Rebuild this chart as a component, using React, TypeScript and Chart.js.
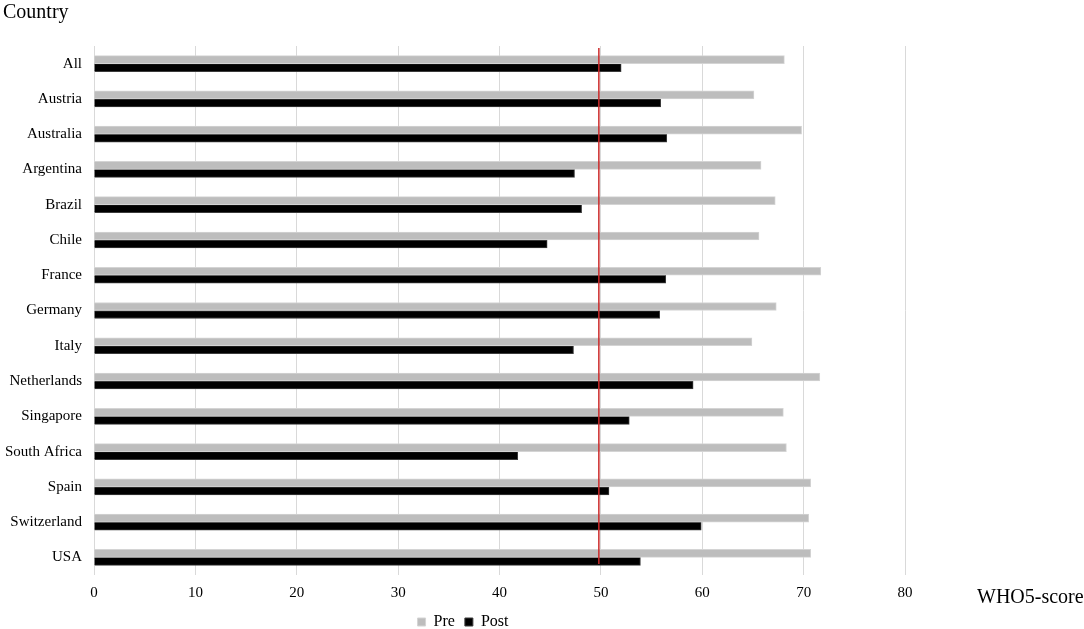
import React, { useEffect, useRef } from "react";
import { Chart, registerables } from "chart.js";

Chart.register(...registerables);

const countries = [
  "All", "Austria", "Australia", "Argentina", "Brazil", "Chile", "France", "Germany",
  "Italy", "Netherlands", "Singapore", "South Africa", "Spain", "Switzerland", "USA",
];
const preValues = [68.1, 65.1, 69.8, 65.8, 67.2, 65.6, 71.7, 67.3, 64.9, 71.6, 68.0, 68.3, 70.7, 70.5, 70.7];
const postValues = [52.0, 55.9, 56.5, 47.4, 48.1, 44.7, 56.4, 55.8, 47.3, 59.1, 52.8, 41.8, 50.8, 59.9, 53.9];
const xTickValues = [0, 10, 20, 30, 40, 50, 60, 70, 80];
const thresholdValue = 49.8;
const seriesLabels = ["Pre", "Post"];
const yTitle = "Country";
const xTitle = "WHO5-score";

const FONT = "'Liberation Serif', 'Times New Roman', serif";

const overlayPlugin = {
  id: "overlay",
  afterDatasetsDraw(chart: any) {
    const { ctx, chartArea, scales } = chart;
    const x = scales.x.getPixelForValue(thresholdValue);
    ctx.save();
    ctx.strokeStyle = "#cc2a2a";
    ctx.lineWidth = 1.5;
    ctx.beginPath();
    ctx.moveTo(x, chartArea.top + 2);
    ctx.lineTo(x, chartArea.bottom - 11);
    ctx.stroke();
    ctx.restore();
  },
  afterDraw(chart: any) {
    const { ctx } = chart;
    ctx.save();
    ctx.fillStyle = "#000";
    ctx.font = `20px ${FONT}`;
    ctx.textBaseline = "middle";
    ctx.textAlign = "left";
    ctx.fillText(yTitle, 3, 13);
    ctx.fillText(xTitle, 977, 598);
    ctx.restore();
  },
};

export default function App() {
  const ref = useRef<HTMLCanvasElement | null>(null);
  useEffect(() => {
    if (!ref.current) return;
    const chart = new Chart(ref.current, {
      type: "bar",
      data: {
        labels: countries,
        datasets: [
          {
            label: seriesLabels[0],
            data: preValues,
            backgroundColor: "#bdbdbd",
            borderColor: "#d4d4d4",
            borderWidth: 1,
            barThickness: 8,
          },
          {
            label: seriesLabels[1],
            data: postValues,
            backgroundColor: "#000000",
            borderColor: "#3c3c3c",
            borderWidth: 1,
            barThickness: 8,
          },
        ],
      },
      options: {
        indexAxis: "y",
        animation: false,
        responsive: false,
        maintainAspectRatio: false,
        layout: { padding: { top: 46, right: 158, left: 0, bottom: -11 } },
        plugins: {
          legend: {
            position: "bottom",
            labels: {
              boxWidth: 8,
              boxHeight: 8,
              padding: 10,
              color: "#000",
              font: { family: FONT, size: 16 },
            },
          },
          tooltip: { enabled: false },
        },
        scales: {
          x: {
            min: 0,
            max: 82.07,
            afterBuildTicks: (s: any) => {
              s.ticks = xTickValues.map((v) => ({ value: v }));
            },
            ticks: {
              color: "#000",
              font: { family: FONT, size: 15 },
              padding: 9,
              autoSkip: false,
              maxRotation: 0,
            },
            grid: {
              color: "#d9d9d9",
              lineWidth: 1,
              drawTicks: false,
            },
            border: { display: false },
            afterFit: (s: any) => {
              s.height = 29;
            },
          },
          y: {
            ticks: {
              color: "#000",
              font: { family: FONT, size: 15 },
              padding: 12,
            },
            grid: { display: false, drawTicks: false },
            border: { display: false },
            afterFit: (s: any) => {
              s.width = 94;
            },
          },
        },
      },
      plugins: [overlayPlugin],
    });
    return () => chart.destroy();
  }, []);
  return (
    <div style={{ position: "fixed", left: 0, top: 0, width: 1084, height: 629, background: "#fff" }}>
      <canvas ref={ref} width={1084} height={629} style={{ width: 1084, height: 629 }} />
    </div>
  );
}
